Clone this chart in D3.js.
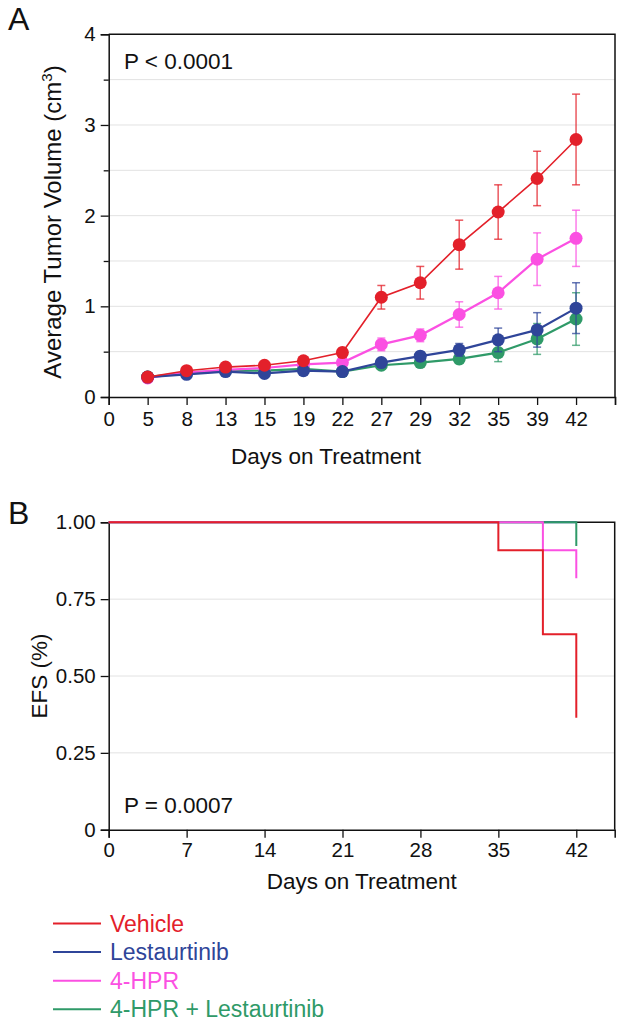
<!DOCTYPE html>
<html><head><meta charset="utf-8">
<script src="https://cdn.jsdelivr.net/npm/d3@7"></script>
<style>body{margin:0;background:#fff}svg{display:block;font-family:"Liberation Sans",Arial,sans-serif}</style>
</head><body><svg id="c" width="627" height="1029"></svg>
<script>
// ---- Data ----
const xTickLabels = ["0","5","8","13","15","19","22","27","29","32","35","39","42",""];
const days = ["5","8","13","15","19","22","27","29","32","35","39","42"];
const vehicleVol = [0.22,0.29,0.33,0.35,0.40,0.49,1.10,1.26,1.68,2.04,2.41,2.84];
const vehicleErr = [0.02,0.02,0.02,0.02,0.03,0.05,0.13,0.18,0.27,0.30,0.30,0.50];
const hprVol = [0.21,0.27,0.30,0.32,0.36,0.38,0.58,0.68,0.91,1.15,1.52,1.75];
const hprErr = [0.01,0.02,0.02,0.02,0.02,0.03,0.07,0.07,0.14,0.18,0.29,0.31];
const lestVol = [0.22,0.25,0.28,0.26,0.29,0.28,0.38,0.45,0.52,0.63,0.74,0.98];
const lestErr = [0.01,0.01,0.02,0.02,0.02,0.02,0.04,0.05,0.07,0.13,0.19,0.28];
const comboVol = [0.22,0.27,0.29,0.29,0.31,0.28,0.35,0.38,0.42,0.49,0.64,0.86];
const comboErr = [0.01,0.01,0.02,0.02,0.02,0.02,0.03,0.04,0.05,0.10,0.17,0.29];
const yTicksA = [0,1,2,3,4];

// Kaplan-Meier (time, survival) steps
const vehicleKM = [[0,1],[35,0.909],[39,0.636],[42,0.364]];
const lestKM = [[0,1],[42,1]];
const hprKM = [[0,1],[39,0.909],[42,0.818]];
const comboKM = [[0,1],[42,0.923]];
const xTicksB = [0,7,14,21,28,35,42];
const yTicksB = [0,0.25,0.5,0.75,1];

const seriesNames = ["Vehicle","Lestaurtinib","4-HPR","4-HPR + Lestaurtinib"];
const colors = {"Vehicle":"#e3202a","Lestaurtinib":"#2f4599","4-HPR":"#fb50e2","4-HPR + Lestaurtinib":"#2f9a68"};

const svg = d3.select("#c");
const font = '"Liberation Sans",Arial,sans-serif';
const tickFont = 20.5, titleFont = 22.5;

// ---- Panel A ----
const A = {l:108.7, r:615, t:34.3, b:397};
const xA = d3.scalePoint().domain(xTickLabels).range([A.l, A.r]);
const yA = d3.scaleLinear().domain([0,4]).range([A.b, A.t]);

const gridA = d3.range(0.5, 4, 0.5);
svg.append("g").selectAll("line").data(gridA).join("line")
  .attr("x1",A.l).attr("x2",A.r).attr("y1",d=>yA(d)).attr("y2",d=>yA(d))
  .attr("stroke","#e2e2e2").attr("stroke-width",1);

svg.append("path").attr("d",`M${A.l},${A.t}H${A.r}V${A.b}`).attr("fill","none").attr("stroke","#111").attr("stroke-width",1.5);

const yAxA = svg.append("g").attr("transform",`translate(${A.l},0)`)
  .call(d3.axisLeft(yA).tickValues(yTicksA).tickFormat(d3.format("d")).tickSize(8).tickPadding(5));
svg.append("g").attr("transform",`translate(${A.l},0)`)
  .call(d3.axisLeft(yA).tickValues([0.5,1.5,2.5,3.5]).tickFormat("").tickSize(5))
  .call(g=>g.select(".domain").remove());
const xAxA = svg.append("g").attr("transform",`translate(0,${A.b})`)
  .call(d3.axisBottom(xA).tickSize(8).tickPadding(6));
[yAxA, xAxA].forEach(g=>{
  g.select(".domain").attr("stroke","#111").attr("stroke-width",1.5);
  g.selectAll("text").attr("font-size",tickFont).attr("font-family",font).attr("fill","#111");
});
svg.selectAll(".tick line").attr("stroke","#111").attr("stroke-width",1.3);

const seriesA = [
  {name:"4-HPR + Lestaurtinib", v:comboVol, e:comboErr, w:2.2},
  {name:"4-HPR", v:hprVol, e:hprErr, w:2.2},
  {name:"Lestaurtinib", v:lestVol, e:lestErr, w:2.2},
  {name:"Vehicle", v:vehicleVol, e:vehicleErr, w:1.6}
];
seriesA.forEach(s=>{
  const c = colors[s.name];
  const pts = days.map((d,i)=>({x:xA(d), y:s.v[i], e:s.e[i]}));
  const g = svg.append("g");
  g.selectAll("line.eb").data(pts).join("line").attr("class","eb")
    .attr("x1",d=>d.x).attr("x2",d=>d.x).attr("y1",d=>yA(d.y+d.e)).attr("y2",d=>yA(d.y-d.e))
    .attr("stroke",c).attr("stroke-opacity",0.75).attr("stroke-width",1.5);
  ["u","d"].forEach(sg=>{
    g.selectAll("line.cap"+sg).data(pts).join("line").attr("class","cap"+sg)
      .attr("x1",d=>d.x-4).attr("x2",d=>d.x+4)
      .attr("y1",d=>yA(sg=="u"?d.y+d.e:d.y-d.e)).attr("y2",d=>yA(sg=="u"?d.y+d.e:d.y-d.e))
      .attr("stroke",c).attr("stroke-opacity",0.75).attr("stroke-width",1.5);
  });
  g.append("path").datum(pts).attr("fill","none").attr("stroke",c).attr("stroke-width",s.w)
    .attr("d",d3.line().x(d=>d.x).y(d=>yA(d.y)));
  g.selectAll("circle").data(pts).join("circle").attr("cx",d=>d.x).attr("cy",d=>yA(d.y)).attr("r",6.5).attr("fill",c);
});

svg.append("text").attr("x",124).attr("y",69).attr("font-size",titleFont).attr("fill","#111").text("P < 0.0001");
svg.append("text").attr("x",8).attr("y",30).attr("font-size",32).attr("fill","#111").text("A");
const yTitleA = svg.append("text").attr("transform",`translate(61,222) rotate(-90)`)
  .attr("text-anchor","middle").attr("font-size",24).attr("fill","#111");
yTitleA.append("tspan").text("Average Tumor Volume (cm");
yTitleA.append("tspan").attr("font-size",15).attr("dy",-9).text("3");
yTitleA.append("tspan").attr("dy",9).text(")");
svg.append("text").attr("x",326).attr("y",464).attr("text-anchor","middle").attr("font-size",titleFont).attr("fill","#111").text("Days on Treatment");

// ---- Panel B ----
const B = {l:108.7, r:614.7, t:522.3, b:829.7};
const xB = d3.scaleLinear().domain([0,45.45]).range([B.l,B.r]);
const yB = d3.scaleLinear().domain([0,1]).range([B.b,B.t]);

svg.append("g").selectAll("line").data([0.25,0.5,0.75]).join("line")
  .attr("x1",B.l).attr("x2",B.r).attr("y1",d=>yB(d)).attr("y2",d=>yB(d))
  .attr("stroke","#e2e2e2").attr("stroke-width",1);
svg.append("path").attr("d",`M${B.l},${B.t}H${B.r}V${B.b}`).attr("fill","none").attr("stroke","#111").attr("stroke-width",1.5);

const yAxB = svg.append("g").attr("transform",`translate(${B.l},0)`)
  .call(d3.axisLeft(yB).tickValues(yTicksB).tickFormat(d=>d===0?"0":d3.format(".2f")(d)).tickSize(8).tickPadding(5));
const xAxB = svg.append("g").attr("transform",`translate(0,${B.b})`)
  .call(d3.axisBottom(xB).tickValues(xTicksB).tickFormat(d3.format("d")).tickSize(8).tickPadding(5));
[yAxB, xAxB].forEach(g=>{
  g.select(".domain").attr("stroke","#111").attr("stroke-width",1.5);
  g.selectAll(".tick line").attr("stroke","#111").attr("stroke-width",1.3);
  g.selectAll("text").attr("font-size",tickFont).attr("font-family",font).attr("fill","#111");
});

const kmLine = d3.line().x(d=>xB(d[0])).y(d=>yB(d[1])).curve(d3.curveStepAfter);
[["Lestaurtinib",lestKM],["4-HPR + Lestaurtinib",comboKM],["4-HPR",hprKM],["Vehicle",vehicleKM]].forEach(([n,km])=>{
  svg.append("path").datum(km).attr("fill","none").attr("stroke",colors[n]).attr("stroke-width",2).attr("d",kmLine);
});

svg.append("text").attr("x",124).attr("y",813).attr("font-size",titleFont).attr("fill","#111").text("P = 0.0007");
svg.append("text").attr("x",8).attr("y",524).attr("font-size",32).attr("fill","#111").text("B");
svg.append("text").attr("transform",`translate(47,676) rotate(-90)`)
  .attr("text-anchor","middle").attr("font-size",titleFont).attr("fill","#111").text("EFS (%)");
svg.append("text").attr("x",(B.l+B.r)/2).attr("y",889).attr("text-anchor","middle").attr("font-size",titleFont).attr("fill","#111").text("Days on Treatment");

// ---- Legend ----
const lg = svg.append("g");
seriesNames.forEach((n,i)=>{
  const y = 923.5 + i*28.6;
  lg.append("line").attr("x1",53).attr("x2",101).attr("y1",y).attr("y2",y).attr("stroke",colors[n]).attr("stroke-width",2);
  lg.append("text").attr("x",110).attr("y",y+8).attr("font-size",23).attr("fill",colors[n]).text(n);
});
</script></body></html>
